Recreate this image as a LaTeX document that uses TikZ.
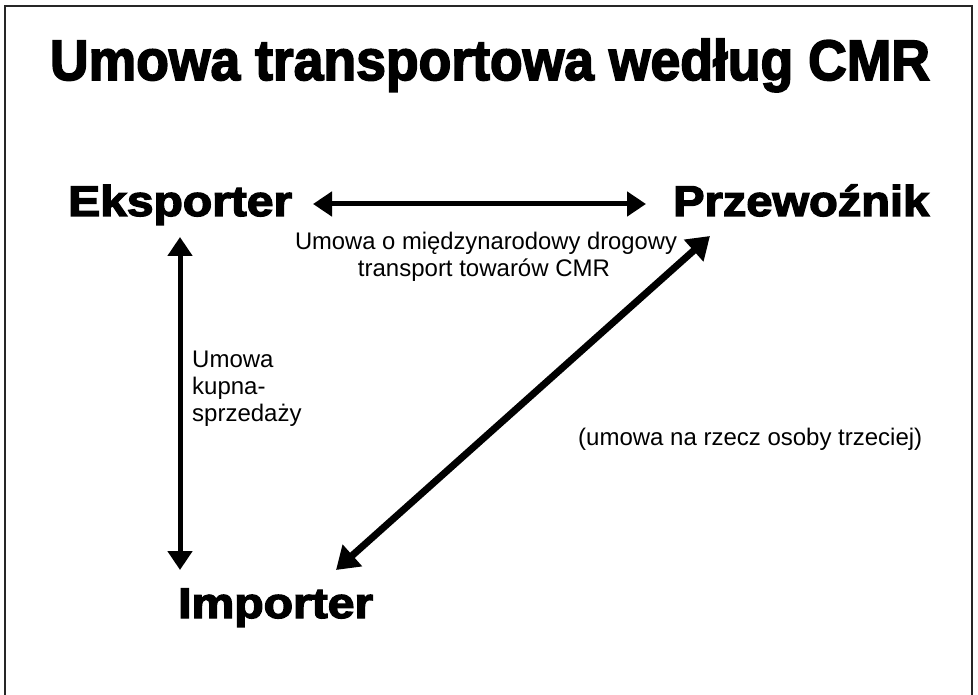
\documentclass[tikz,border=0pt]{standalone}
\usepackage{fontspec}
\setmainfont{Liberation Sans}
\newfontfamily\heavy[FakeBold=3]{Liberation Sans Bold}
\usetikzlibrary{arrows.meta}
\begin{document}
\begin{tikzpicture}[x=1pt,y=-1pt,
  heavytext/.style={inner sep=0pt, anchor=base west, font=\heavy\fontsize{43}{43}\selectfont},
  plain/.style={inner sep=0pt, font=\fontsize{24}{27}\selectfont},
  bigarrow/.style={line width=5pt, {Triangle[length=19pt,width=24pt]}-{Triangle[length=19pt,width=24pt]}},
  diagarrow/.style={line width=7pt, {Triangle[length=22pt,width=28pt]}-{Triangle[length=22pt,width=28pt]}},
  frame/.style={line width=1.5pt, draw=black!85}
]
\useasboundingbox (0,0) rectangle (978,695);
\draw[frame] (5,700) -- (5,6) -- (972,6) -- (972,700);

\node[inner sep=0pt, anchor=base] (title) at (490,80)
  {\resizebox{880pt}{\height}{\heavy\fontsize{57}{57}\selectfont Umowa transportowa według CMR}};

\node[heavytext] (eks) at (68,216) {\resizebox{224pt}{\height}{Eksporter}};
\node[heavytext] (prz) at (673,216) {\resizebox{256pt}{\height}{Przewoźnik}};
\node[heavytext] (imp) at (178,618) {\resizebox{195pt}{\height}{Importer}};

\node[plain, anchor=base] (cmr1) at (486,250) {\resizebox{382pt}{\height}{Umowa o międzynarodowy drogowy}};
\node[plain, anchor=base] (cmr2) at (484,277) {transport towarów CMR};

\node[plain, anchor=base west] (kup1) at (192,367) {Umowa};
\node[plain, anchor=base west] (kup2) at (192,394) {kupna-};
\node[plain, anchor=base west] (kup3) at (192,421) {sprzedaży};

\node[plain, anchor=base west] (third) at (578,445) {\resizebox{344pt}{\height}{(umowa na rzecz osoby trzeciej)}};

\coordinate (h1) at (313,204);
\coordinate (h2) at (646,204);
\coordinate (v1) at (180,237);
\coordinate (v2) at (180,570);
\coordinate (d1) at (710,236);
\coordinate (d2) at (336,570);

\draw[bigarrow] (h1) -- (h2);
\draw[bigarrow] (v1) -- (v2);
\draw[diagarrow] (d1) -- (d2);
\end{tikzpicture}
\end{document}
